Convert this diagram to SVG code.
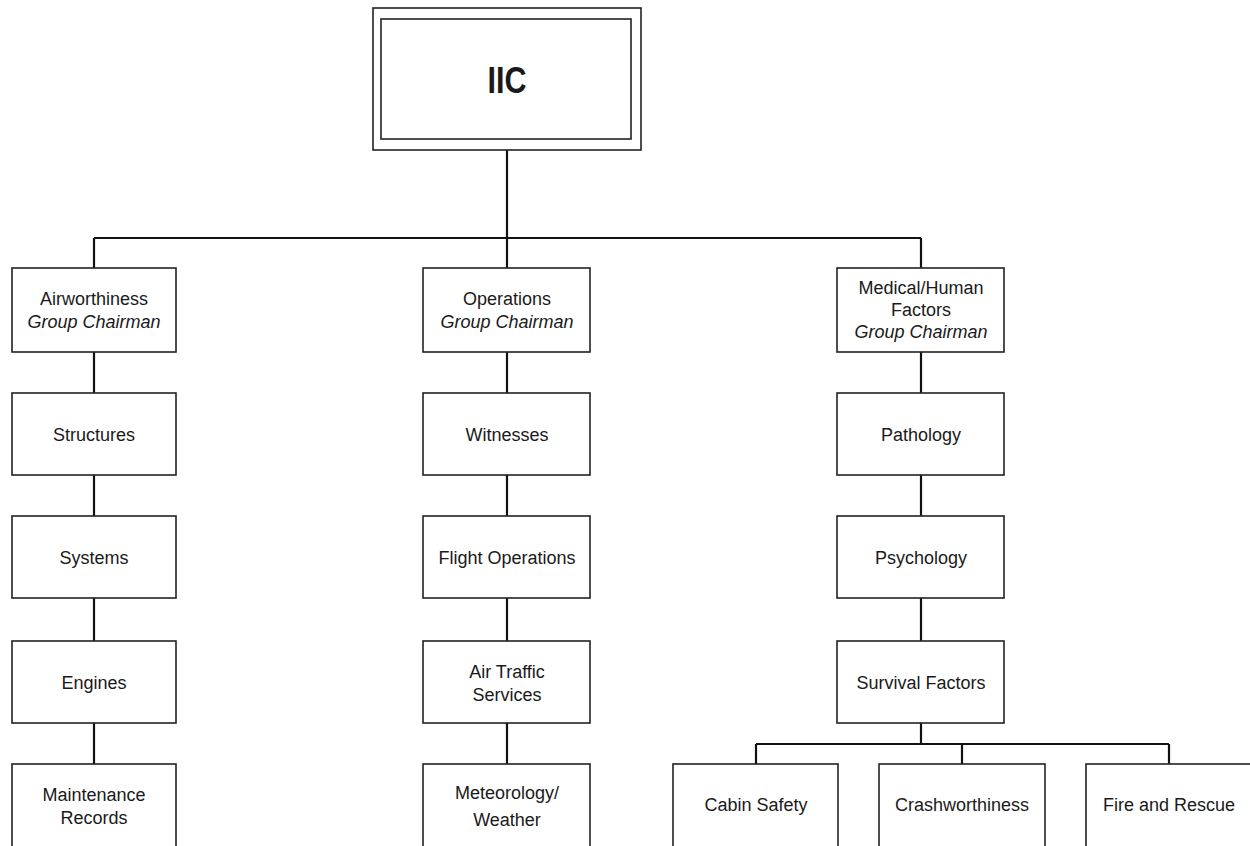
<svg xmlns="http://www.w3.org/2000/svg" width="1250" height="846" viewBox="0 0 1250 846">
<style>
.bg{fill:#fff}
.box{fill:#fff;stroke:#222;stroke-width:1.6}
.con{fill:none;stroke:#111;stroke-width:2.2}
text{font-family:"Liberation Sans",Arial,sans-serif;font-size:18px;fill:#1a1a1a;text-anchor:middle}
.it{font-style:italic}
.big{font-size:37px;font-weight:bold}
</style>
<rect class="bg" x="0" y="0" width="1250" height="846"/>
<g id="connectors">
<path class="con" d="M507 150V238M94 238H921M94 238V268M507 238V268M921 238V268"/>
<path class="con" d="M94 352V393M94 475V516M94 598V641M94 723V764"/>
<path class="con" d="M507 352V393M507 475V516M507 598V641M507 723V764"/>
<path class="con" d="M921 352V393M921 475V516M921 598V641M921 723V744M756 744H1169M756 744V764M962 744V764M1169 744V764"/>
</g>
<g id="iic">
<rect class="box" x="373" y="8" width="268" height="142" stroke-width="2"/>
<rect class="box" x="381" y="19" width="250" height="120"/>
<text class="big" x="507" y="93" textLength="39" lengthAdjust="spacingAndGlyphs">IIC</text>
</g>
<g id="airworthiness">
<rect class="box" x="12" y="268" width="164" height="84"/>
<text x="94" y="305">Airworthiness</text>
<text class="it" x="94" y="328">Group Chairman</text>
</g>
<g id="structures"><rect class="box" x="12" y="393" width="164" height="82"/><text x="94" y="441">Structures</text></g>
<g id="systems"><rect class="box" x="12" y="516" width="164" height="82"/><text x="94" y="564">Systems</text></g>
<g id="engines"><rect class="box" x="12" y="641" width="164" height="82"/><text x="94" y="689">Engines</text></g>
<g id="maintenance"><rect class="box" x="12" y="764" width="164" height="84"/><text x="94" y="801">Maintenance</text><text x="94" y="824">Records</text></g>
<g id="operations">
<rect class="box" x="423" y="268" width="167" height="84"/>
<text x="507" y="305">Operations</text>
<text class="it" x="507" y="328">Group Chairman</text>
</g>
<g id="witnesses"><rect class="box" x="423" y="393" width="167" height="82"/><text x="507" y="441">Witnesses</text></g>
<g id="flightops"><rect class="box" x="423" y="516" width="167" height="82"/><text x="507" y="564">Flight Operations</text></g>
<g id="ats"><rect class="box" x="423" y="641" width="167" height="82"/><text x="507" y="678">Air Traffic</text><text x="507" y="701">Services</text></g>
<g id="meteorology"><rect class="box" x="423" y="764" width="167" height="84"/><text x="507" y="799">Meteorology/</text><text x="507" y="826">Weather</text></g>
<g id="medical">
<rect class="box" x="837" y="268" width="167" height="84"/>
<text x="921" y="294">Medical/Human</text>
<text x="921" y="316">Factors</text>
<text class="it" x="921" y="338">Group Chairman</text>
</g>
<g id="pathology"><rect class="box" x="837" y="393" width="167" height="82"/><text x="921" y="441">Pathology</text></g>
<g id="psychology"><rect class="box" x="837" y="516" width="167" height="82"/><text x="921" y="564">Psychology</text></g>
<g id="survival"><rect class="box" x="837" y="641" width="167" height="82"/><text x="921" y="689">Survival Factors</text></g>
<g id="cabin"><rect class="box" x="673" y="764" width="165" height="84"/><text x="756" y="811">Cabin Safety</text></g>
<g id="crash"><rect class="box" x="879" y="764" width="166" height="84"/><text x="962" y="811">Crashworthiness</text></g>
<g id="fire"><rect class="box" x="1086" y="764" width="166" height="84"/><text x="1169" y="811">Fire and Rescue</text></g>
</svg>
